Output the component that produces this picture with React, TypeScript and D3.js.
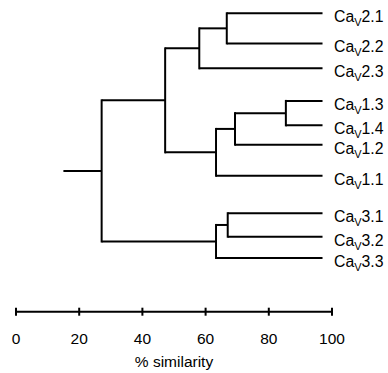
import React, { useEffect, useRef } from "react";
import * as d3 from "d3";

// leaf names (subtype number after the subscript V)
const leafNames = ["2.1", "2.2", "2.3", "1.3", "1.4", "1.2", "1.1", "3.1", "3.2", "3.3"];
// vertical slot of each leaf (row units, uneven spacing as in the figure)
const leafRows = [0, 1.23, 2.25, 3.58, 4.58, 5.37, 6.64, 8.17, 9.13, 10];
// % similarity where each cluster joins
const clusterNames = ["root", "cav21", "cav2", "pair21", "cav1", "cav12", "pair13", "cav3", "pair31"];
const clusterValues = [27.1, 47.2, 58, 66.7, 63.3, 69.3, 85.4, 63.3, 67];
const leafValue = 97;
const stemValue = 15;
const axisTicks = [0, 20, 40, 60, 80, 100];

type Node = { name: string; children?: Node[] };

const tree: Node = {
  name: "root",
  children: [
    {
      name: "cav21",
      children: [
        { name: "cav2", children: [{ name: "pair21", children: [{ name: "2.1" }, { name: "2.2" }] }, { name: "2.3" }] },
        {
          name: "cav1",
          children: [
            { name: "cav12", children: [{ name: "pair13", children: [{ name: "1.3" }, { name: "1.4" }] }, { name: "1.2" }] },
            { name: "1.1" },
          ],
        },
      ],
    },
    { name: "cav3", children: [{ name: "pair31", children: [{ name: "3.1" }, { name: "3.2" }] }, { name: "3.3" }] },
  ],
};

const font = "Liberation Sans, Arial, sans-serif";

const Dendrogram = () => {
  const ref = useRef<SVGSVGElement>(null);

  useEffect(() => {
    const svg = d3.select(ref.current);
    svg.selectAll("*").remove();

    const x = d3.scaleLinear().domain([0, 100]).range([16, 332]);
    const y = d3.scaleLinear().domain([0, 10]).range([13.3, 258]);

    const root = d3.hierarchy(tree);
    const pos = new Map<string, { px: number; py: number }>();
    root.eachAfter((d: any) => {
      let px, py;
      if (!d.children) {
        px = x(leafValue);
        py = y(leafRows[leafNames.indexOf(d.data.name)]);
      } else {
        px = x(clusterValues[clusterNames.indexOf(d.data.name)]);
        const ys = d.children.map((c: any) => pos.get(c.data.name)!.py);
        py = (ys[0] + ys[ys.length - 1]) / 2;
      }
      pos.set(d.data.name, { px, py });
    });

    const g = svg.append("g").attr("stroke", "#000").attr("stroke-width", 2).attr("fill", "none");

    // root stem
    const r = pos.get("root")!;
    g.append("line").attr("x1", x(stemValue)).attr("x2", r.px).attr("y1", r.py).attr("y2", r.py);

    // elbows
    root.each((d: any) => {
      if (!d.children) return;
      const p = pos.get(d.data.name)!;
      const ys = d.children.map((c: any) => pos.get(c.data.name)!.py);
      g.append("line").attr("x1", p.px).attr("x2", p.px).attr("y1", d3.min(ys)! - 1).attr("y2", d3.max(ys)! + 1);
      d.children.forEach((c: any) => {
        const cp = pos.get(c.data.name)!;
        g.append("line").attr("x1", p.px).attr("x2", cp.px).attr("y1", cp.py).attr("y2", cp.py);
      });
    });

    // leaf labels
    root.leaves().forEach((d: any) => {
      const p = pos.get(d.data.name)!;
      const t = svg
        .append("text")
        .attr("x", p.px + 11.5)
        .attr("y", p.py + 8.8)
        .attr("font-family", font)
        .attr("font-size", 15.8)
        .attr("fill", "#000");
      t.append("tspan").text("Ca");
      t.append("tspan").attr("font-size", 11).attr("dy", 4).text("V");
      t.append("tspan").attr("dy", -4).text(d.data.name);
    });

    // scale axis
    const axisY = 311.7;
    const ax = svg.append("g").attr("stroke", "#000").attr("stroke-width", 2);
    ax.append("line").attr("x1", x(0)).attr("x2", x(100)).attr("y1", axisY).attr("y2", axisY);
    ax.selectAll(".tick")
      .data(axisTicks)
      .enter()
      .append("line")
      .attr("x1", (d) => x(d))
      .attr("x2", (d) => x(d))
      .attr("y1", axisY - 4)
      .attr("y2", axisY + 4);

    svg
      .selectAll(".tick-label")
      .data(axisTicks)
      .enter()
      .append("text")
      .attr("x", (d) => x(d))
      .attr("y", 344)
      .attr("text-anchor", "middle")
      .attr("font-family", font)
      .attr("font-size", 15.5)
      .text((d) => d);

    svg
      .append("text")
      .attr("x", x(50))
      .attr("y", 366.5)
      .attr("text-anchor", "middle")
      .attr("font-family", font)
      .attr("font-size", 15.5)
      .text("% similarity");
  }, []);

  return <svg ref={ref} width={388} height={373} style={{ position: "absolute", left: 0, top: 0, background: "#fff" }} />;
};

export default function App() {
  return <Dendrogram />;
}
